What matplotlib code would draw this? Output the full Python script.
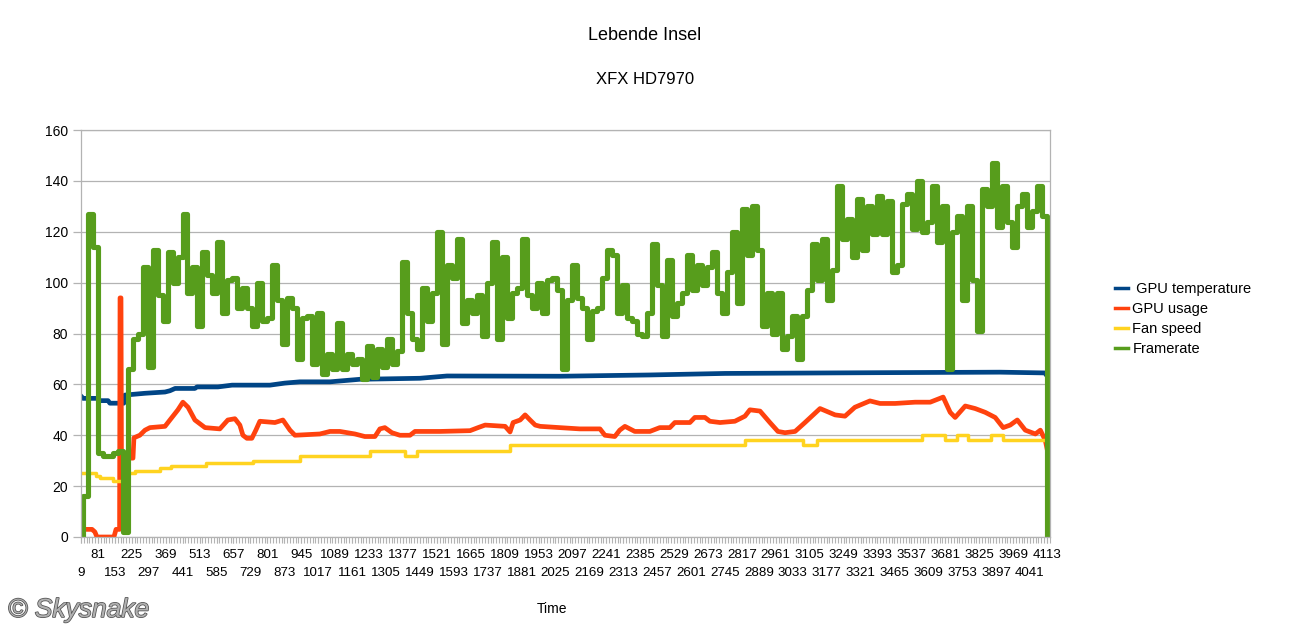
import numpy as np
import matplotlib.pyplot as plt
import matplotlib.patheffects as pe

plt.rcParams['font.family'] = ['Liberation Sans', 'DejaVu Sans']

# Framerate, read off roughly every 21 samples
fps = [0, 16, 127, 114, 33, 32, 32, 33, 34, 2, 66, 78, 80, 106, 67, 113, 95, 85, 112, 100,
       110, 127, 96, 106, 83, 112, 103, 96, 116, 88, 101, 102, 90, 98, 90, 83, 100, 85, 86, 107,
       93, 76, 94, 90, 70, 86, 87, 68, 88, 64, 72, 66, 84, 66, 72, 68, 70, 62, 75, 63,
       74, 67, 78, 68, 73, 108, 88, 78, 74, 98, 85, 96, 120, 76, 107, 102, 117, 84, 93, 88,
       95, 79, 100, 116, 78, 110, 86, 96, 98, 117, 95, 90, 100, 88, 101, 102, 97, 66, 93, 107,
       94, 90, 78, 89, 90, 102, 113, 111, 88, 99, 86, 85, 80, 79, 88, 115, 99, 79, 109, 87,
       92, 96, 111, 97, 107, 99, 106, 112, 96, 88, 104, 120, 92, 129, 111, 130, 113, 83, 96, 80,
       96, 74, 79, 87, 70, 87, 97, 115, 101, 117, 93, 105, 138, 117, 125, 110, 133, 113, 130, 119,
       134, 119, 132, 104, 107, 131, 135, 121, 140, 120, 124, 138, 116, 130, 66, 120, 126, 93, 130, 101,
       81, 137, 130, 147, 122, 138, 124, 114, 130, 135, 122, 128, 138, 126, 0]
fps_time = np.linspace(5, 4125, len(fps))

# GPU temperature
temp_time = [5, 18, 81, 90, 124, 132, 191, 196, 281, 366, 387, 409, 493, 502, 591, 651, 812,
             875, 939, 1067, 1194, 1449, 1564, 2043, 2426, 2745, 3403, 3913, 4104, 4112]
temp = [55.8, 54.5, 54.5, 53.6, 53.6, 52.6, 52.6, 55.8, 56.5, 57, 57.5, 58.4, 58.4, 59, 59,
        59.7, 59.7, 60.5, 61, 61, 62, 62.4, 63.3, 63.2, 63.7, 64.3, 64.6, 64.8, 64.5, 63.5]

# GPU usage
usage_time = [5, 18, 56, 68, 77, 149, 158, 173, 175, 179, 181, 230, 234, 259, 281, 302, 366,
              387, 421, 442, 464, 493, 536, 599, 633, 663, 684, 697, 714, 735, 752, 769, 833,
              867, 897, 918, 1024, 1067, 1109, 1173, 1215, 1258, 1279, 1300, 1330, 1364, 1407,
              1428, 1534, 1662, 1696, 1726, 1811, 1832, 1845, 1875, 1896, 1917, 1939, 1960,
              2043, 2128, 2214, 2235, 2277, 2298, 2320, 2362, 2426, 2468, 2511, 2532, 2596,
              2617, 2660, 2681, 2724, 2787, 2830, 2851, 2894, 2936, 2970, 3000, 3043, 3085,
              3149, 3213, 3255, 3297, 3361, 3404, 3468, 3553, 3617, 3672, 3702, 3723, 3766,
              3808, 3851, 3893, 3927, 3957, 3987, 4021, 4064, 4085, 4106, 4115, 4126]
usage = [0, 3, 3, 2, 0, 0, 3, 3, 94, 94, 31, 31, 39, 40, 42, 43, 43.5,
         46, 50, 53, 51, 46, 43, 42.5, 46, 46.5, 44, 40, 38.8, 38.8, 42, 45.5, 45,
         46, 42, 40, 40.5, 41.5, 41.5, 40.5, 39.5, 39.5, 42.5, 43, 41, 40, 40,
         41.5, 41.5, 41.8, 43, 44, 43.5, 41.3, 45, 46, 48, 46, 44, 43.5,
         43, 42.5, 42.5, 40, 39.5, 42, 43.5, 41.5, 41.5, 43, 43, 45, 45,
         47, 47, 45.5, 45, 45.5, 47.5, 50, 49.5, 45, 41.5, 41, 41.5, 45,
         50.5, 48, 47.5, 51, 53.5, 52.5, 52.5, 53, 53, 55, 49, 47, 51.5,
         50.5, 49, 47, 43, 44, 46, 42, 40.5, 42, 38, 34, 29]

# Fan speed (changes only)
fan_time = [5, 73, 90, 145, 196, 238, 345, 391, 540, 740, 939, 1237, 1385, 1436, 1831,
            2830, 3076, 3136, 3581, 3679, 3729, 3776, 3877, 3925, 4112]
fan = [25, 24, 23, 22, 25, 26, 27, 28, 29, 30, 32, 34, 32, 34, 36,
       38, 36, 38, 40, 38, 40, 38, 40, 38, 38]

# category labels: every 72nd sample, shown staggered on two rows
upper_ticks = list(range(81, 4114, 144))
lower_ticks = list(range(9, 4114, 144))
dense_ticks = list(range(9, 4126, 12))
ytick_vals = list(range(0, 161, 20))

grey = '#b3b3b3'

fig = plt.figure(figsize=(12.9, 6.39), dpi=100)
ax = fig.add_axes([80.5 / 1290, 102 / 639, 969.5 / 1290, 407 / 639])

ax.plot(temp_time, temp, color='#004586', lw=3.4, label=' GPU temperature')
ax.plot(usage_time, usage, color='#ff420e', lw=3.4, label='GPU usage')
ax.plot(fan_time, fan, color='#ffd320', lw=2.5, drawstyle='steps-post', label='Fan speed')
ax.plot(fps_time, fps, color='#579d1c', lw=3.7, drawstyle='steps-mid', label='Framerate')

ax.set_xlim(7, 4126)
ax.set_ylim(0, 160)
ax.set_yticks(ytick_vals)
ax.set_xticks(upper_ticks, labels=[str(v) for v in upper_ticks])
ax.set_xticks(lower_ticks, labels=[str(v) for v in lower_ticks], minor=True)
ax.grid(axis='y', color=grey, lw=0.9)
ax.set_axisbelow(True)
for s in ax.spines.values():
    s.set_color(grey)
    s.set_linewidth(0.9)
ax.tick_params(axis='y', length=6, color=grey, width=0.9, pad=3, labelsize=10)
ax.tick_params(axis='x', which='major', length=4, color=grey, width=0.8, pad=5, labelsize=9.6)
ax.tick_params(axis='x', which='minor', length=4, color=grey, width=0.8, pad=17.5, labelsize=9.6)

# small category tick marks along the x axis
sec = ax.secondary_xaxis('bottom')
sec.set_xticks(dense_ticks, labels=[])
sec.tick_params(length=4, color=grey, width=0.8)
sec.spines['bottom'].set_visible(False)

fig.text(0.5, 1 - 36 / 639, 'Lebende Insel', ha='center', va='center', fontsize=13)
fig.text(0.5, 1 - 80 / 639, 'XFX HD7970', ha='center', va='center', fontsize=12)
fig.text(552 / 1290, 1 - 609 / 639, 'Time', ha='center', va='center', fontsize=10)

leg = ax.legend(loc='center left', bbox_to_anchor=(1115 / 1290, 1 - 319 / 639),
                bbox_transform=fig.transFigure, frameon=False, fontsize=10.5,
                handlelength=0.9, handletextpad=0.3, labelspacing=0.42, borderpad=0,
                borderaxespad=0)
for h in leg.get_lines():
    h.set_linewidth(2.5)

fig.text(8 / 1290, 1 - 610 / 639, '\u00a9 Skysnake', ha='left', va='center', fontsize=19,
         style='italic', color='#b0b0b0',
         path_effects=[pe.withStroke(linewidth=1.1, foreground='#505050')])

fig.savefig('out.png', dpi=100)
